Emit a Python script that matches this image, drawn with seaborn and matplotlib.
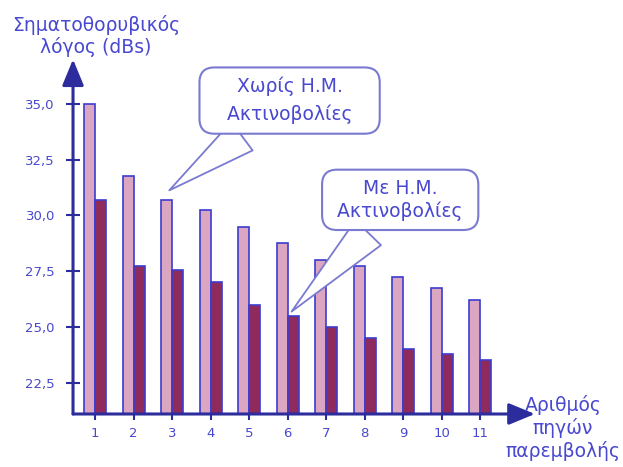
import pandas as pd
import seaborn as sns
import matplotlib
matplotlib.use("Agg")
import matplotlib.pyplot as plt

# data
sources = ["1", "2", "3", "4", "5", "6", "7", "8", "9", "10", "11"]
snr_without = [35.0, 31.75, 30.7, 30.25, 29.5, 28.75, 28.0, 27.75, 27.25, 26.75, 26.2]
snr_with = [30.7, 27.75, 27.55, 27.0, 26.0, 25.5, 25.0, 24.5, 24.0, 23.8, 23.5]
series_names = ["Χωρίς Η.Μ. Ακτινοβολίες", "Με Η.Μ. Ακτινοβολίες"]
yticks = [22.5, 25.0, 27.5, 30.0, 32.5, 35.0]
ytick_labels = ["22,5", "25,0", "27,5", "30,0", "32,5", "35,0"]

df = pd.concat([
    pd.DataFrame({"source": sources, "series": series_names[0], "snr": snr_without}),
    pd.DataFrame({"source": sources, "series": series_names[1], "snr": snr_with}),
])

navy = "#2c2c9c"
blue = "#4848d0"
pink = "#dba6c2"
plum = "#8e2a5c"
box_edge = "#7a7ad0"

sns.set_style("white")
plt.rcParams["font.family"] = ["DejaVu Sans"]

fig = plt.figure(figsize=(6.23, 4.67), dpi=100)
ax = fig.add_axes([0.1172, 0.1135, 0.7095, 0.7595])

sns.barplot(data=df, x="source", y="snr", hue="series", order=sources,
            hue_order=series_names, palette=[pink, plum], width=0.57, gap=0,
            saturation=1, edgecolor="#3c3cd0", linewidth=1.2, legend=False, ax=ax)

ax.set_xlim(-0.57, 10.9)
ax.set_ylim(21.1, 37.0)
ax.set_yticks(yticks)
ax.set_yticklabels(ytick_labels)
ax.set_xlabel("")
ax.set_ylabel("")
for s in ax.spines.values():
    s.set_visible(False)

ax.tick_params(axis="y", direction="inout", length=10, width=1.5, color=navy,
               labelcolor=blue, labelsize=9.5, pad=8, left=True)
ax.tick_params(axis="x", direction="out", length=4.5, width=1.5, color=navy,
               labelcolor=blue, labelsize=9.5, pad=5, bottom=True)

# axes with arrow heads
arrow = dict(arrowstyle="-|>,head_length=0.8,head_width=0.33", color=navy,
             lw=2.2, mutation_scale=20, shrinkA=0, shrinkB=0)
ax.annotate("", xy=(0, 1.0), xytext=(0, 0), xycoords="axes fraction",
            arrowprops=arrow, annotation_clip=False)
ax.annotate("", xy=(1.045, 0), xytext=(0, 0), xycoords="axes fraction",
            arrowprops=arrow, annotation_clip=False)

fig.text(96 / 623, 1 - 36 / 467, "Σηματοθορυβικός\nλόγος (dBs)", color=blue,
         fontsize=13.5, ha="center", va="center", linespacing=1.1)
fig.text(563 / 623, 1 - 428 / 467, "Αριθμός\nπηγών\nπαρεμβολής", color=blue,
         fontsize=13.5, ha="center", va="center", linespacing=1.2)

# speech bubble callouts
ax.annotate("Χωρίς Η.Μ.\n   Ακτινοβολίες   ", xy=(1.87, 31.05), xytext=(5.05, 35.15),
            ha="center", va="center", color=blue, fontsize=13.5, linespacing=1.55,
            bbox=dict(boxstyle="round,pad=0.5,rounding_size=0.8", fc="white",
                      ec=box_edge, lw=1.5),
            arrowprops=dict(arrowstyle="wedge,tail_width=1.9", fc="white",
                            ec=box_edge, lw=1.3))
ax.annotate("Με Η.Μ.\n Ακτινοβολίες ", xy=(5.05, 25.6), xytext=(7.92, 30.7),
            ha="center", va="center", color=blue, fontsize=13.5, linespacing=1.2,
            bbox=dict(boxstyle="round,pad=0.5,rounding_size=0.8", fc="white",
                      ec=box_edge, lw=1.5),
            arrowprops=dict(arrowstyle="wedge,tail_width=1.9", fc="white",
                            ec=box_edge, lw=1.3))

fig.savefig("out.png", dpi=100)
